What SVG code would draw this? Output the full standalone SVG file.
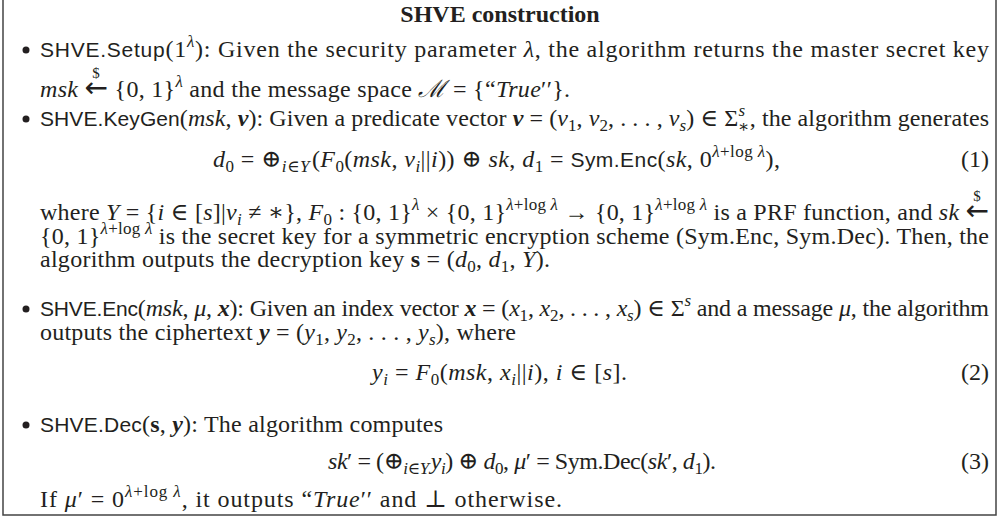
<svg xmlns="http://www.w3.org/2000/svg" width="1002" height="517" viewBox="0 0 1002 517">
<style>
.t{font-family:"Liberation Serif","DejaVu Serif",serif;font-size:24px;fill:#231f20}
.i{font-style:italic}
.b{font-weight:bold}
.sf{font-family:"Liberation Sans","DejaVu Sans",sans-serif;font-size:21px}
.s{font-size:17px}
.ar{font-family:"DejaVu Sans",sans-serif;font-size:28px;font-weight:normal}
.dl{font-size:15px}
.bul{fill:#231f20}
.frame{fill:none;stroke:#444;stroke-width:1.5}
</style>
<rect width="1002" height="517" fill="#fff"/>
<path class="frame" d="M3,0 V515 H996 V0"/>
<g id="title"><text class="t b" x="500" y="22" text-anchor="middle">SHVE construction</text></g>

<g id="setup">
<circle class="bul" cx="26" cy="50" r="3.5"/>
<text class="t" x="40" y="57" textLength="949" lengthAdjust="spacing"><tspan class="sf">SHVE.Setup</tspan>(1<tspan class="s i" dy="-10">λ</tspan><tspan dy="10">): Given the security parameter </tspan><tspan class="i">λ</tspan>, the algorithm returns the master secret key</text>
<text class="t" x="40" y="97" textLength="530" lengthAdjust="spacing"><tspan class="i">msk</tspan> <tspan class="ar">←</tspan> {0, 1}<tspan class="s i" dy="-10">λ</tspan><tspan dy="10"> and the message space </tspan><tspan class="i">ℳ</tspan> = {“<tspan class="i">True</tspan>′′}.</text>
<text class="t dl" x="96" y="78" text-anchor="middle">$</text>
</g>

<g id="keygen">
<circle class="bul" cx="26" cy="119" r="3.5"/>
<text class="t" x="40" y="126" textLength="949" lengthAdjust="spacing"><tspan class="sf">SHVE.KeyGen</tspan>(<tspan class="i">msk</tspan>, <tspan class="i b">v</tspan>): Given a predicate vector <tspan class="i b">v</tspan> = (<tspan class="i">v</tspan><tspan class="s" dy="5">1</tspan><tspan dy="-5">, </tspan><tspan class="i">v</tspan><tspan class="s" dy="5">2</tspan><tspan dy="-5">, . . . , </tspan><tspan class="i">v</tspan><tspan class="s i" dy="5">s</tspan><tspan dy="-5">) ∈ Σ</tspan><tspan class="s i" dy="-10">s</tspan><tspan class="s" dx="-7" dy="16">∗</tspan><tspan dy="-6">, the algorithm generates</tspan></text>
<text class="t" x="213" y="167" textLength="567" lengthAdjust="spacing"><tspan class="i">d</tspan><tspan class="s" dy="5">0</tspan><tspan dy="-5"> = ⊕</tspan><tspan class="s" dy="5"><tspan class="i">i</tspan>∈<tspan class="i">Y</tspan></tspan><tspan dx="2" dy="-5">(</tspan><tspan class="i">F</tspan><tspan class="s" dy="5">0</tspan><tspan dy="-5">(</tspan><tspan class="i">msk</tspan>, <tspan class="i">v</tspan><tspan class="s i" dy="5">i</tspan><tspan dy="-5">||</tspan><tspan class="i">i</tspan>)) ⊕ <tspan class="i">sk</tspan>,  <tspan class="i">d</tspan><tspan class="s" dy="5">1</tspan><tspan dy="-5"> = </tspan><tspan class="sf">Sym.Enc</tspan>(<tspan class="i">sk</tspan>, 0<tspan class="s" dy="-10"><tspan class="i">λ</tspan>+log <tspan class="i">λ</tspan></tspan><tspan dy="10">),</tspan></text>
<text class="t" x="989" y="167" text-anchor="end">(1)</text>
<text class="t" x="40" y="220" textLength="949" lengthAdjust="spacing">where <tspan class="i">Y</tspan> = {<tspan class="i">i</tspan> ∈ [<tspan class="i">s</tspan>]|<tspan class="i">v</tspan><tspan class="s i" dy="5">i</tspan><tspan dy="-5"> ≠ ∗}, </tspan><tspan class="i">F</tspan><tspan class="s" dy="5">0</tspan><tspan dy="-5"> : {0, 1}</tspan><tspan class="s i" dy="-10">λ</tspan><tspan dy="10"> × {0, 1}</tspan><tspan class="s" dy="-10"><tspan class="i">λ</tspan>+log <tspan class="i">λ</tspan></tspan><tspan dy="10"> → {0, 1}</tspan><tspan class="s" dy="-10"><tspan class="i">λ</tspan>+log <tspan class="i">λ</tspan></tspan><tspan dy="10"> is a PRF function, and </tspan><tspan class="i">sk</tspan> <tspan class="ar">←</tspan></text>
<text class="t dl" x="977" y="201" text-anchor="middle">$</text>
<text class="t" x="40" y="244" textLength="949" lengthAdjust="spacing">{0, 1}<tspan class="s" dy="-10"><tspan class="i">λ</tspan>+log <tspan class="i">λ</tspan></tspan><tspan dy="10"> is the secret key for a symmetric encryption scheme (Sym.Enc, Sym.Dec). Then, the</tspan></text>
<text class="t" x="40" y="267" textLength="510" lengthAdjust="spacing">algorithm outputs the decryption key <tspan class="b">s</tspan> = (<tspan class="i">d</tspan><tspan class="s" dy="5">0</tspan><tspan dy="-5">, </tspan><tspan class="i">d</tspan><tspan class="s" dy="5">1</tspan><tspan dy="-5">, </tspan><tspan class="i">Y</tspan>).</text>
</g>

<g id="enc">
<circle class="bul" cx="26" cy="309" r="3.5"/>
<text class="t" x="40" y="316" textLength="949" lengthAdjust="spacing"><tspan class="sf">SHVE.Enc</tspan>(<tspan class="i">msk</tspan>, <tspan class="i">μ</tspan>, <tspan class="i b">x</tspan>): Given an index vector <tspan class="i b">x</tspan> = (<tspan class="i">x</tspan><tspan class="s" dy="5">1</tspan><tspan dy="-5">, </tspan><tspan class="i">x</tspan><tspan class="s" dy="5">2</tspan><tspan dy="-5">, . . . , </tspan><tspan class="i">x</tspan><tspan class="s i" dy="5">s</tspan><tspan dy="-5">) ∈ Σ</tspan><tspan class="s i" dy="-10">s</tspan><tspan dy="10"> and a message </tspan><tspan class="i">μ</tspan>, the algorithm</text>
<text class="t" x="40" y="340" textLength="476" lengthAdjust="spacing">outputs the ciphertext <tspan class="i b">y</tspan> = (<tspan class="i">y</tspan><tspan class="s" dy="5">1</tspan><tspan dy="-5">, </tspan><tspan class="i">y</tspan><tspan class="s" dy="5">2</tspan><tspan dy="-5">, . . . , </tspan><tspan class="i">y</tspan><tspan class="s i" dy="5">s</tspan><tspan dy="-5">), where</tspan></text>
<text class="t" x="372" y="380" textLength="255" lengthAdjust="spacing"><tspan class="i">y</tspan><tspan class="s i" dy="5">i</tspan><tspan dy="-5"> = </tspan><tspan class="i">F</tspan><tspan class="s" dy="5">0</tspan><tspan dy="-5">(</tspan><tspan class="i">msk</tspan>, <tspan class="i">x</tspan><tspan class="s i" dy="5">i</tspan><tspan dy="-5">||</tspan><tspan class="i">i</tspan>), <tspan class="i">i</tspan> ∈ [<tspan class="i">s</tspan>].</text>
<text class="t" x="989" y="380" text-anchor="end">(2)</text>
</g>

<g id="dec">
<circle class="bul" cx="26" cy="425" r="3.5"/>
<text class="t" x="40" y="432" textLength="403" lengthAdjust="spacing"><tspan class="sf">SHVE.Dec</tspan>(<tspan class="b">s</tspan>, <tspan class="i b">y</tspan>): The algorithm computes</text>
<text class="t" x="328" y="469" textLength="388" lengthAdjust="spacing"><tspan class="i">sk</tspan>′ = (⊕<tspan class="s" dy="5"><tspan class="i">i</tspan>∈<tspan class="i">Y</tspan></tspan><tspan class="i" dx="2" dy="-5">y</tspan><tspan class="s i" dy="5">i</tspan><tspan dy="-5">) ⊕ </tspan><tspan class="i">d</tspan><tspan class="s" dy="5">0</tspan><tspan dy="-5">,  </tspan><tspan class="i">μ</tspan>′ = Sym.Dec(<tspan class="i">sk</tspan>′, <tspan class="i">d</tspan><tspan class="s" dy="5">1</tspan><tspan dy="-5">).</tspan></text>
<text class="t" x="989" y="469" text-anchor="end">(3)</text>
<text class="t" x="40" y="507" textLength="522" lengthAdjust="spacing">If <tspan class="i">μ</tspan>′ = 0<tspan class="s" dy="-10"><tspan class="i">λ</tspan>+log <tspan class="i">λ</tspan></tspan><tspan dy="10">, it outputs “</tspan><tspan class="i">True</tspan>′′ and ⊥ otherwise.</text>
</g>
</svg>
